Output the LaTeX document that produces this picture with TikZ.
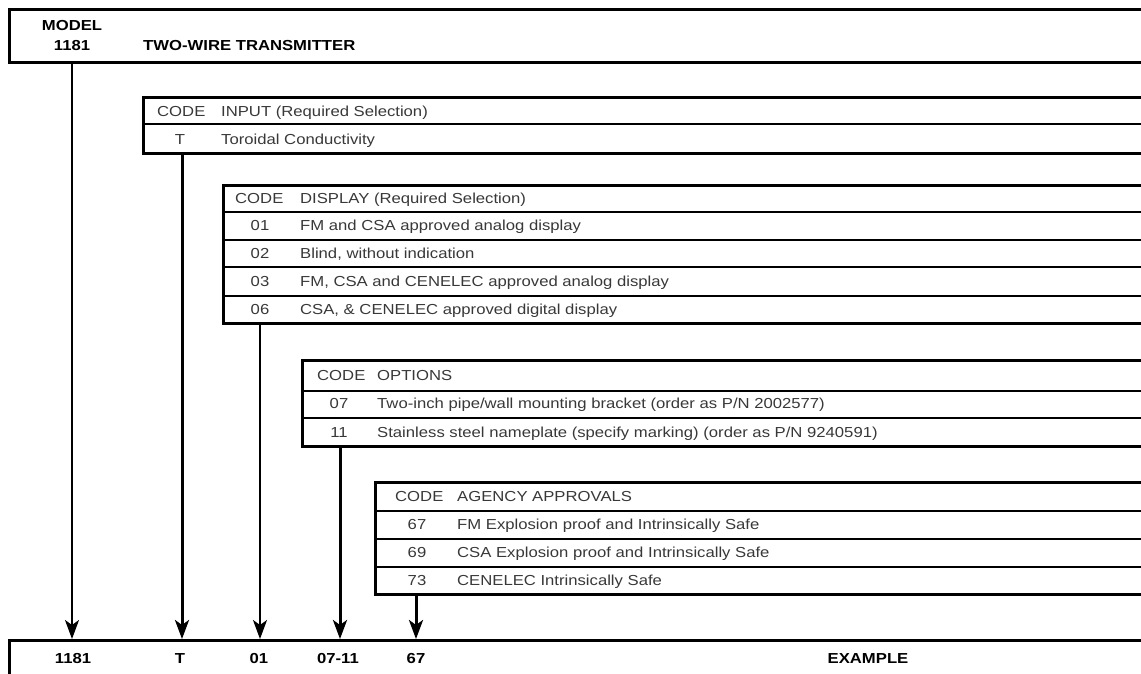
\documentclass[tikz,border=0pt]{standalone}
\usepackage{fontspec}
\setmainfont{Liberation Sans}[FakeStretch=1.15]
\usetikzlibrary{arrows.meta,positioning}
\tikzset{
    border/.style={line width=3pt},
    headrule/.style={line width=2pt},
    rowrule/.style={line width=1.5pt},
    cell/.style={anchor=west, inner sep=0pt, text height=10.4pt, text depth=0pt,
        text=black!78, font=\fontsize{14.5}{17}\selectfont},
    codecell/.style={cell, anchor=center},
    bold/.style={inner sep=0pt, text height=10.4pt, text depth=0pt,
        font=\fontsize{14.5}{17}\selectfont\bfseries},
    pick/.style={-{Stealth[length=19pt, width=14pt, inset=5pt]}},
}

\begin{document}
\begin{tikzpicture}[x=1pt, y=-1pt]
    \useasboundingbox (0,0) rectangle (1141,673);
    \clip (0,0) rectangle (1141,673);

    \draw[border] (9,9) rectangle (1160,62);
    \node[bold] (model) at (72,25) {MODEL};
    \node[bold] (mnum) at (72,45) {1181};
    \node[bold, anchor=west] (title) at (143,45) {TWO-WIRE TRANSMITTER};

    \draw[border] (143,97) rectangle (1160,153);
    \draw[headrule] (143,124) -- (1160,124);
    \node[cell] (incode) at (157,111) {CODE};
    \node[cell] (intitle) at (221,111) {INPUT (Required Selection)};
    \node[codecell] (in1) at (180,139) {T};
    \node[cell] (intext1) at (221,139) {Toroidal Conductivity};

    \draw[border] (223,185) rectangle (1160,323);
    \draw[headrule] (223,212) -- (1160,212);
    \foreach \y in {240,267,296}
        \draw[rowrule] (223,\y) -- (1160,\y);
    \node[cell] (dispcode) at (235,198) {CODE};
    \node[cell] (disptitle) at (300,198) {DISPLAY (Required Selection)};
    \foreach \c/\t [count=\i] in {01/FM and CSA approved analog display,
            02/{Blind, without indication},
            03/{FM, CSA and CENELEC approved analog display},
            06/{CSA, \& CENELEC approved digital display}} {
        \node[codecell] (disp\i) at (260,{198+27.75*\i}) {\c};
        \node[cell] (disptext\i) at (300,{198+27.75*\i}) {\t};
    }

    \draw[border] (302,360) rectangle (1160,446);
    \draw[headrule] (302,391) -- (1160,391);
    \draw[rowrule] (302,418) -- (1160,418);
    \node[cell] (optcode) at (317,375) {CODE};
    \node[cell] (opttitle) at (377,375) {OPTIONS};
    \foreach \c/\t [count=\i] in {07/{Two-inch pipe/wall mounting bracket (order as P/N 2002577)},
            11/{Stainless steel nameplate (specify marking) (order as P/N 9240591)}} {
        \node[codecell] (opt\i) at (339,{375+28.5*\i}) {\c};
        \node[cell] (opttext\i) at (377,{375+28.5*\i}) {\t};
    }

    \draw[border] (375,482) rectangle (1160,594);
    \draw[headrule] (375,511) -- (1160,511);
    \foreach \y in {539,567}
        \draw[rowrule] (375,\y) -- (1160,\y);
    \node[cell] (agcode) at (395,496) {CODE};
    \node[cell] (agtitle) at (457,496) {AGENCY APPROVALS};
    \foreach \c/\t [count=\i] in {67/FM Explosion proof and Intrinsically Safe,
            69/CSA Explosion proof and Intrinsically Safe,
            73/CENELEC Intrinsically Safe} {
        \node[codecell] (ag\i) at (417,{496+28*\i}) {\c};
        \node[cell] (agtext\i) at (457,{496+28*\i}) {\t};
    }

    \draw[border] (9,640) rectangle (1160,700);
    \node[bold] (v1181) at (73,658) {1181};
    \node[bold] (vT) at (180,658) {T};
    \node[bold] (v01) at (259,658) {01};
    \node[bold] (v0711) at (338,658) {07-11};
    \node[bold] (v67) at (416,658) {67};
    \node[bold] (vex) at (868,658) {EXAMPLE};

    \coordinate (modelout) at (72,62);
    \coordinate (inout) at (182,153);
    \coordinate (dispout) at (260,323);
    \coordinate (optout) at (340,446);
    \coordinate (agout) at (416,594);
    \coordinate (v1181in) at (72,639);
    \coordinate (vTin) at (182,639);
    \coordinate (v01in) at (260,639);
    \coordinate (v0711in) at (340,639);
    \coordinate (v67in) at (416,639);
    \draw[pick, line width=1.8pt] (modelout) -- (v1181in);
    \draw[pick, line width=3pt] (inout) -- (vTin);
    \draw[pick, line width=1.8pt] (dispout) -- (v01in);
    \draw[pick, line width=3pt] (optout) -- (v0711in);
    \draw[pick, line width=3pt] (agout) -- (v67in);
\end{tikzpicture}
\end{document}
